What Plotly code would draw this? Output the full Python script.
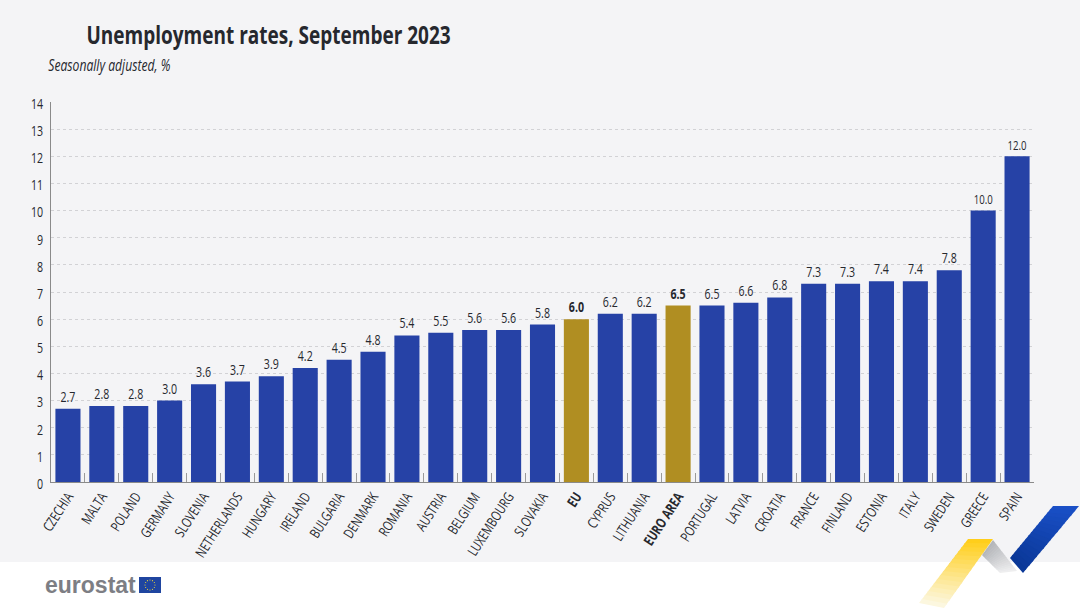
# Unemployment rates bar chart, eurostat style
import math
import plotly.graph_objects as go

countries = ["CZECHIA", "MALTA", "POLAND", "GERMANY", "SLOVENIA", "NETHERLANDS", "HUNGARY", "IRELAND",
             "BULGARIA", "DENMARK", "ROMANIA", "AUSTRIA", "BELGIUM", "LUXEMBOURG", "SLOVAKIA", "EU",
             "CYPRUS", "LITHUANIA", "EURO AREA", "PORTUGAL", "LATVIA", "CROATIA", "FRANCE", "FINLAND",
             "ESTONIA", "ITALY", "SWEDEN", "GREECE", "SPAIN"]
rates = [2.7, 2.8, 2.8, 3.0, 3.6, 3.7, 3.9, 4.2, 4.5, 4.8, 5.4, 5.5, 5.6, 5.6, 5.8, 6.0,
         6.2, 6.2, 6.5, 6.5, 6.6, 6.8, 7.3, 7.3, 7.4, 7.4, 7.8, 10.0, 12.0]
aggregates = ["EU", "EURO AREA"]
y_ticks = list(range(0, 15))

FONT = "Open Sans"
BLUE = "#2642a6"
GOLD = "#b08e22"
INK = "#26282e"

# plot area in page pixels
L, R, T, B = 51, 1034, 102, 482


def fx(x):
    return (x - L) / (R - L)


def fy(y):
    return (B - y) / (B - T)


def poly(points, color):
    path = "M " + " L ".join(f"{fx(x):.5f},{fy(y):.5f}" for x, y in points) + " Z"
    return dict(type="path", xref="paper", yref="paper", path=path,
                fillcolor=color, line=dict(width=0), layer="below")


def mix(a, b, t):
    return "rgb(" + ",".join(str(round(a[i] + (b[i] - a[i]) * t)) for i in range(3)) + ")"


# a ribbon is cut in thin slices so it can fade from one colour to another
def ribbon(a0, a1, b0, b1, c0, c1, n=16):
    out = []
    for i in range(n):
        t0 = i / n
        t1 = min(1, (i + 1.3) / n)
        p = lambda s, e, t: (s[0] + (e[0] - s[0]) * t, s[1] + (e[1] - s[1]) * t)
        out.append(poly([p(a0, a1, t0), p(b0, b1, t0), p(b0, b1, t1), p(a0, a1, t1)],
                        mix(c0, c1, (i + 0.5) / n)))
    return out


bar_colors = [GOLD if c in aggregates else BLUE for c in countries]
bar_text = [f"<b>{v:.1f}</b>" if c in aggregates else f"{v:.1f}" for c, v in zip(countries, rates)]
tick_text = [f"<b>{c}</b>" if c in aggregates else c for c in countries]

fig = go.Figure(go.Bar(
    x=countries,
    y=rates,
    width=0.74,
    marker=dict(color=bar_colors, line=dict(width=0)),
    text=bar_text,
    textposition="outside",
    cliponaxis=False,
    textfont=dict(family=FONT, size=14, color=INK),
))

shapes = [
    # white footer band
    dict(type="rect", xref="paper", yref="paper", x0=fx(0), x1=fx(1080), y0=fy(562), y1=fy(608),
         fillcolor="#ffffff", line=dict(width=0), layer="below"),
    # flag of the logo
    dict(type="rect", xref="paper", yref="paper", x0=fx(139), x1=fx(161), y0=fy(593), y1=fy(577),
         fillcolor="#1f45a0", line=dict(width=0), layer="below"),
]
# ring of stars on the flag
for i in range(12):
    cx = 150 + 5 * math.cos(i * math.pi / 6)
    cy = 585 + 5 * math.sin(i * math.pi / 6)
    shapes.append(dict(type="circle", xref="paper", yref="paper", x0=fx(cx - 0.6), x1=fx(cx + 0.6),
                       y0=fy(cy + 0.6), y1=fy(cy - 0.6), fillcolor="#e8d23a", line=dict(width=0), layer="below"))
shapes += ribbon((968, 539), (919, 603), (993, 539), (944, 608), (255, 205, 20), (252, 248, 230))
shapes += ribbon((993, 540), (1017, 571), (982, 555), (1000, 573), (178, 180, 184), (240, 240, 241))
shapes += ribbon((1053, 506), (1010, 558), (1079, 506), (1023, 573), (26, 80, 200), (10, 55, 150))

annotations = [
    dict(text="<b>Unemployment rates, September 2023</b>", x=fx(27), y=fy(34), font=dict(size=25, color=INK)),
    dict(text="<i>Seasonally adjusted, %</i>", x=fx(27), y=fy(65), font=dict(size=16, color=INK)),
    dict(text="<b>eurostat</b>", x=fx(43), y=fy(585), font=dict(family="Liberation Sans", size=23, color="#7d7e84")),
]
for a in annotations:
    a.update(xref="paper", yref="paper", showarrow=False)
    a.setdefault("xanchor", "left")
    a.setdefault("yanchor", "middle")
    a["font"].setdefault("family", FONT)

fig.update_layout(
    width=1080,
    height=608,
    margin=dict(l=L, r=1080 - R, t=T, b=608 - B, pad=0),
    paper_bgcolor="#f4f4f6",
    plot_bgcolor="rgba(0,0,0,0)",
    showlegend=False,
    shapes=shapes,
    annotations=annotations,
)
fig.update_xaxes(
    tickmode="array",
    tickvals=countries,
    ticktext=tick_text,
    tickangle=-57,
    tickson="boundaries",
    ticks="inside",
    ticklen=9,
    tickwidth=1,
    tickcolor="#9a9a9a",
    showline=True,
    linecolor="#8a8a8a",
    showgrid=False,
    tickfont=dict(family=FONT, size=14, color=INK),
)
fig.update_yaxes(
    range=[0, 14],
    tickmode="array",
    tickvals=y_ticks,
    ticks="",
    showline=True,
    linecolor="#8a8a8a",
    showgrid=True,
    griddash="dot",
    gridcolor="#d2d2d5",
    gridwidth=1,
    zeroline=False,
    ticklabelstandoff=4,
    ticklabelshift=2,
    tickfont=dict(family=FONT, size=14, color=INK),
)

# the installed fonts have no condensed cut, so squeeze the text horizontally
squeeze = """
document.body.style.margin = '0';
document.querySelectorAll('.xtick text, .ytick text, .bartext, .annotation-text').forEach(function (t) {
    if (t.textContent === 'eurostat') return;
    t.setAttribute('textLength', t.getComputedTextLength() * 0.76);
    t.setAttribute('lengthAdjust', 'spacingAndGlyphs');
});
"""
fig.write_html("out.html", config=dict(displayModeBar=False), post_script=squeeze)
